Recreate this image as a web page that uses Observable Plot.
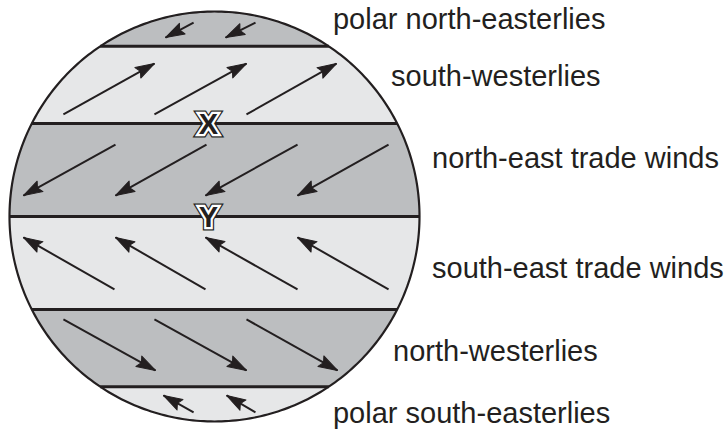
<!DOCTYPE html>
<html>
<head>
<meta charset="utf-8">
<script src="https://cdn.jsdelivr.net/npm/d3@7"></script>
<script src="https://cdn.jsdelivr.net/npm/@observablehq/plot@0.6"></script>
<style>
  html, body { margin: 0; padding: 0; background: #ffffff; }
  #chart svg { display: block; }
</style>
</head>
<body>
<div id="chart"></div>
<script>
// ---- Data (globe units: radius = 100, north positive) ----
const beltNames  = ["polar north-easterlies", "south-westerlies", "north-east trade winds",
                    "south-east trade winds", "north-westerlies", "polar south-easterlies"];
const beltNorth  = [100, 83, 45.4, 0, -45.4, -83];
const beltSouth  = [83, 45.4, 0, -45.4, -83, -100];
const beltShade  = ["dark", "light", "dark", "light", "dark", "light"];

// label anchor points (globe units)
const labelU = [57.8, 86.1, 106.1, 106.1, 87.1, 57.8];
const labelV = [96.2, 68.4, 28.4, -25.7, -66.2, -96.0];

// boundaries between belts
const boundaries = [83, 45.4, 0, -45.4, -83];

// wind arrows: belt index, start (u1, v1) -> end (u2, v2)
const arrowBelt = [0, 0, 1, 1, 1, 2, 2, 2, 2, 3, 3, 3, 3, 4, 4, 4, 5, 5];
const arrowU1 = [-10.2, 20.0, -73.7, -29.3, 15.6, -48.3, -3.9, 40.5, 84.9, -48.8, -4.4, 40.5, 84.9, -73.7, -29.3, 15.6, -10.2, 20.0];
const arrowV1 = [94.6, 94.6, 49.8, 49.8, 49.8, 35.1, 35.1, 35.1, 35.1, -35.6, -35.6, -35.6, -35.6, -50.2, -50.2, -50.2, -95.6, -95.6];
const arrowU2 = [-23.9, 5.4, -29.3, 15.6, 59.5, -93.2, -48.3, -4.4, 40.5, -93.2, -48.3, -4.4, 40.5, -28.8, 15.6, 60.0, -24.9, 5.9];
const arrowV2 = [87.3, 87.3, 74.6, 74.6, 74.6, 10.2, 10.2, 10.2, 10.2, -10.2, -10.2, -10.2, -10.2, -75.1, -75.1, -75.1, -87.3, -87.3];

// points of interest
const markNames = ["X", "Y"];
const markU = [-3.0, -3.0];
const markV = [45.4, 0];

// ---- Styles ----
const shadeColor = {dark: "#bcbec0", light: "#e6e7e8"};
const ink = "#231f20";
const R = 100;

// ---- Derived tables ----
const half = (v) => Math.sqrt(Math.max(0, R * R - v * v));

const bandRows = [];
beltNames.forEach((name, i) => {
  const n = 80;
  for (let k = 0; k <= n; k++) {
    const v = beltSouth[i] + (beltNorth[i] - beltSouth[i]) * k / n;
    bandRows.push({name, v, x1: -half(v), x2: half(v), fill: shadeColor[beltShade[i]]});
  }
});

const circleRows = d3.range(0, 361).map((a) => ({
  u: R * Math.cos(a * Math.PI / 180),
  v: R * Math.sin(a * Math.PI / 180)
}));

const arrows = arrowBelt.map((b, i) => ({
  belt: beltNames[b],
  u1: arrowU1[i], v1: arrowV1[i], u2: arrowU2[i], v2: arrowV2[i],
  angle: Math.atan2(arrowU2[i] - arrowU1[i], arrowV2[i] - arrowV1[i]) * 180 / Math.PI
}));

const labels = beltNames.map((name, i) => ({name, u: labelU[i], v: labelV[i]}));
const marksPts = markNames.map((name, i) => ({name, u: markU[i], v: markV[i]}));

const headShape = {
  draw(context, l) {
    context.moveTo(0, -l);
    context.lineTo(-6, 0);
    context.lineTo(0, -3);
    context.lineTo(6, 0);
    context.closePath();
  }
};

const font = "'Liberation Sans', Arial, Helvetica, sans-serif";

const chart = Plot.plot({
  width: 728,
  height: 432,
  margin: 0,
  x: {domain: [-R, R], range: [9, 419], axis: null},
  y: {domain: [-R, R], range: [421, 11], axis: null},
  color: {type: "identity"},
  marks: [
    Plot.areaX(bandRows, {y: "v", x1: "x1", x2: "x2", z: "name", fill: "fill", curve: "linear"}),
    Plot.link(boundaries, {x1: (v) => -half(v), x2: (v) => half(v), y1: (v) => v, y2: (v) => v,
      stroke: ink, strokeWidth: 3}),
    Plot.link(arrows, {x1: "u1", y1: "v1", x2: "u2", y2: "v2", stroke: ink, strokeWidth: 2}),
    Plot.vector(arrows, {x: "u2", y: "v2", rotate: "angle", length: 19, anchor: "end",
      shape: headShape, fill: ink, stroke: ink, strokeWidth: 1}),
    Plot.line(circleRows, {x: "u", y: "v", stroke: ink, strokeWidth: 2.2}),
    Plot.text(marksPts, {x: "u", y: "v", text: "name", fontSize: 29, fontWeight: "bold",
      fontFamily: font, fill: ink, stroke: ink, strokeWidth: 7, strokeLinejoin: "miter",
      paintOrder: "stroke", dy: 1}),
    Plot.text(marksPts, {x: "u", y: "v", text: "name", fontSize: 29, fontWeight: "bold",
      fontFamily: font, fill: ink, stroke: "white", strokeWidth: 4.5, strokeLinejoin: "miter",
      paintOrder: "stroke", dy: 1}),
    Plot.text(labels, {x: "u", y: "v", text: "name", textAnchor: "start", fontSize: 29,
      fontFamily: font, fill: ink})
  ]
});

document.getElementById("chart").appendChild(chart);
</script>
</body>
</html>
